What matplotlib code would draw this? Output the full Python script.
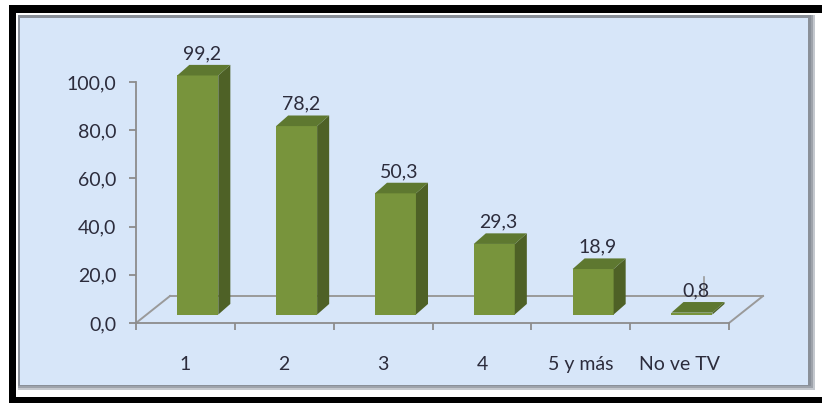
import matplotlib
matplotlib.use("Agg")
import matplotlib.pyplot as plt
from matplotlib.patches import Rectangle, Polygon
from matplotlib.ticker import FixedLocator, FuncFormatter

categories = ["1", "2", "3", "4", "5 y más", "No ve TV"]
values = [99.2, 78.2, 50.3, 29.3, 18.9, 0.8]
value_labels = ["99,2", "78,2", "50,3", "29,3", "18,9", "0,8"]
yticks = [0, 20, 40, 60, 80, 100]

W, H = 822, 403
plt.rcParams['font.family'] = ['Lato', 'DejaVu Sans']
TXT = '#2C2C3C'
AXC = '#8C8C8C'

fig = plt.figure(figsize=(W / 100, H / 100), dpi=100)
fig.patch.set_facecolor('white')

# decoration layer in pixel coordinates
bg = fig.add_axes([0, 0, 1, 1])
bg.set_xlim(0, W)
bg.set_ylim(H, 0)
bg.axis('off')
bg.add_patch(Rectangle((9, 5), W - 9 + 5, H, color='black', lw=0))
bg.add_patch(Rectangle((16, 13), W, 397 - 13, color='white', lw=0))
bg.add_patch(Rectangle((18, 15), 815 - 18, 390 - 15, color='#C4C8CE', lw=0))
bg.add_patch(Rectangle((18, 15), 813 - 18, 388 - 15, color='#9EA3AB', lw=0))
bg.add_patch(Rectangle((18, 15), 811 - 18, 386 - 15, color='#8A9099', lw=0))
bg.add_patch(Rectangle((20, 18), 808 - 20, 385 - 18, color='#D7E6F9', lw=0))

# main axes
x0, x1 = 136, 729
y0, y1 = 323, 82
ax = fig.add_axes([x0 / W, (H - y0) / H, (x1 - x0) / W, (y0 - y1) / H])
ax.set_facecolor('none')
n = len(categories)
ax.set_xlim(-0.5, n - 0.5)
ax.set_ylim(0, 100)

for s in ['top', 'right']:
    ax.spines[s].set_visible(False)
for s in ['left', 'bottom']:
    ax.spines[s].set_color(AXC)
    ax.spines[s].set_linewidth(1.3)

ax.yaxis.set_major_locator(FixedLocator(yticks))
ax.yaxis.set_major_formatter(FuncFormatter(lambda v, p: f"{v:.1f}".replace('.', ',')))
ax.tick_params(axis='y', direction='out', length=5, width=1.3, color=AXC,
               labelsize=14, labelcolor=TXT, pad=9)
ax.set_xticks(range(n))
ax.set_xticklabels(categories)
ax.set_xticks([i - 0.5 for i in range(n + 1)], minor=True)
ax.tick_params(axis='x', which='major', length=0, labelsize=14, labelcolor=TXT, pad=24)
ax.tick_params(axis='x', which='minor', direction='out', length=5, width=1.3, color=AXC)

# floor
fdx, fdy = 0.344, 11.2
fl = dict(color='#9A9A9A', lw=1.4, zorder=1, clip_on=False)
ax.plot([-0.5, -0.5 + fdx], [0, fdy], **fl)
ax.plot([-0.5 + fdx, n - 0.5 + fdx], [fdy, fdy], **fl)
ax.plot([n - 0.5, n - 0.5 + fdx], [0, fdy], **fl)

# bars
w, bx0, by0 = 0.415, 0.125, 3.5
sdx, sdy = 0.122, 4.4
FRONT, SIDE, TOP = '#78943C', '#4E6126', '#5E7830'
xs = [i + bx0 for i in range(n)]
ax.bar(xs, values, width=w, bottom=by0, color=FRONT, lw=0, zorder=3, clip_on=False)
for xc, v, lab in zip(xs, values, value_labels):
    xl, xr = xc - w / 2, xc + w / 2
    b, t = by0, by0 + v
    ax.add_patch(Polygon([(xr, b), (xr + sdx, b + sdy), (xr + sdx, t + sdy), (xr, t)],
                         closed=True, color=SIDE, lw=0, zorder=3, clip_on=False))
    ax.add_patch(Polygon([(xl, t), (xl + sdx, t + sdy), (xr + sdx, t + sdy), (xr, t)],
                         closed=True, color=TOP, lw=0, zorder=3, clip_on=False))
    ax.annotate(lab, (xc + sdx / 2 - 0.02, t + sdy), xytext=(0, 2), textcoords='offset points',
                ha='center', va='bottom', fontsize=14, color=TXT, zorder=5,
                annotation_clip=False)

# small leader line near last label
ax.plot([xs[-1] + 0.12, xs[-1] + 0.12], [fdy, fdy + 8], color='#9A9A9A', lw=1.2, zorder=4)

fig.savefig('out.png', dpi=100, facecolor='white')
